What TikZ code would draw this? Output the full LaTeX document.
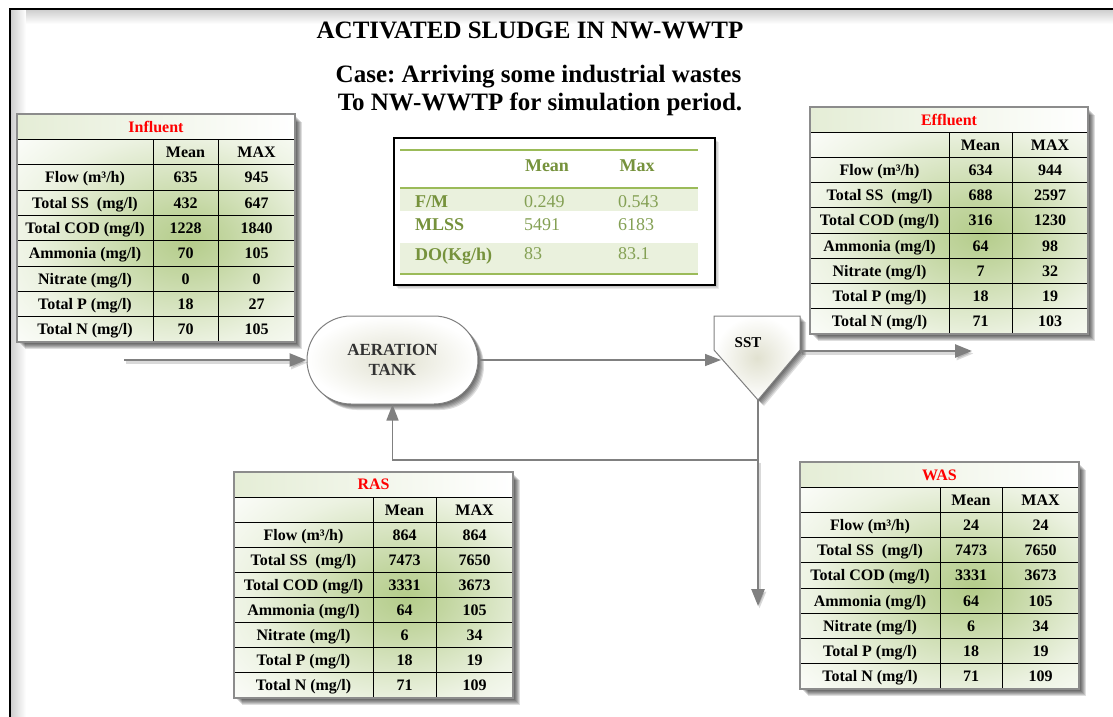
\documentclass[tikz,border=0pt]{standalone}
\usepackage{fontspec}
\setmainfont{Liberation Serif}
\usetikzlibrary{arrows.meta,calc}
\frenchspacing
\definecolor{tgreen}{RGB}{180,204,138}
\definecolor{olivedark}{RGB}{118,146,60}
\definecolor{olivelight}{RGB}{132,160,84}
\definecolor{oliveline}{RGB}{155,187,89}
\definecolor{bandgreen}{RGB}{234,241,221}
\definecolor{linegray}{RGB}{128,128,128}
\definecolor{tankcore}{RGB}{225,225,208}
\definecolor{tanktext}{RGB}{50,50,50}

\pgfdeclareradialshading{tblglow}{\pgfpoint{6bp}{0bp}}{color(0bp)=(tgreen); color(8bp)=(tgreen!80); color(26bp)=(tgreen!25); color(40bp)=(white); color(60bp)=(white)}

\tikzset{
  cell/.style={font=\fontsize{16}{19}\selectfont\bfseries, inner sep=0pt, text height=10.8pt, text depth=0pt},
  tabtitle/.style={cell, text=red},
  flow/.style={draw=linegray, line width=1.5pt, -{Triangle[length=16pt,width=12pt]}},
  bigflow/.style={draw=linegray, line width=2.5pt, -{Triangle[length=17pt,width=13pt]}},
  flowshade/.style={draw=black, opacity=0.15, line width=3pt, transform canvas={shift={(1.5pt,-2.5pt)}}, -{Triangle[length=17pt,width=13pt]}},
  midlabel/.style={font=\fontsize{18}{20}\selectfont\bfseries, text=olivedark, inner sep=0pt, anchor=base west},
  midvalue/.style={font=\fontsize{18}{20}\selectfont, text=olivelight, inner sep=0pt, anchor=base west},
  midhead/.style={font=\fontsize{18}{20}\selectfont\bfseries, text=olivedark, inner sep=0pt, anchor=base},
  headline/.style={font=\fontsize{25}{27}\selectfont\bfseries, inner sep=0pt, align=center},
}

% name, left, top, col1, col2, right, bottom, title, rows
\newcommand{\DataTable}[9]{%
  \pgfmathsetmacro{\tblrh}{(#7-#3)/9}%
  \foreach \k in {1,...,7} \fill[black, opacity=0.13] (#2+\k+1,#3+\k+1) rectangle (#6+\k,#7+\k);
  \fill[white] (#2,#3) rectangle (#6,#7);
  \shade[left color=tgreen!35, right color=white] (#2,#3) rectangle (#6,#3+\tblrh);
  \shade[shading=tblglow] (#2,#3+\tblrh) rectangle (#6,#7);
  \foreach \i in {1,...,8} \draw[black, line width=1pt] (#2,#3+\i*\tblrh) -- (#6,#3+\i*\tblrh);
  \draw[black, line width=1pt] (#4,#3+\tblrh) -- (#4,#7);
  \draw[black, line width=1pt] (#5,#3+\tblrh) -- (#5,#7);
  \draw[black!45, line width=1.5pt] (#2,#3) rectangle (#6,#7);
  \node[tabtitle] (#1-title) at ({(#2+#6)/2},{#3+0.5*\tblrh}) {#8};
  \node[cell] (#1-mean) at ({(#4+#5)/2},{#3+1.5*\tblrh}) {Mean};
  \node[cell] (#1-max) at ({(#5+#6)/2},{#3+1.5*\tblrh}) {MAX};
  \foreach \a/\b/\c [count=\i] in {#9} {
    \node[cell] (#1-\i-1) at ({(#2+#4)/2},{#3+(\i+1.5)*\tblrh}) {\a};
    \node[cell] (#1-\i-2) at ({(#4+#5)/2},{#3+(\i+1.5)*\tblrh}) {\b};
    \node[cell] (#1-\i-3) at ({(#5+#6)/2},{#3+(\i+1.5)*\tblrh}) {\c};
  }%
}

\begin{document}
\begin{tikzpicture}[x=1pt,y=-1pt]
\useasboundingbox (0,0) rectangle (1113,717);
\clip (0,0) rectangle (1113,717);
\fill[white] (0,0) rectangle (1113,717);

% frame with soft inner shadow
\shade[left color=black!20, right color=white] (10,9) rectangle (26,717);
\shade[top color=black!20, bottom color=white] (26,9) rectangle (1113,24);
\draw[black, line width=2.5pt] (10,740) -- (10,9) -- (1140,9);

% titles
\node[headline] (title) at (530,30) {ACTIVATED SLUDGE IN NW-WWTP};
\node[headline] (case1) at (538.5,77) {Case: Arriving some industrial wastes};
\node[headline] (case2) at (540,104) {To NW-WWTP for simulation period.};

% parameters table
\foreach \k in {1,...,4} \fill[black, opacity=0.08] (394+\k,138+\k) rectangle (715+\k,285+\k);
\node[draw=black, line width=1.6pt, fill=white, minimum width=321pt, minimum height=147pt, inner sep=0pt] (params) at (554.5,211.5) {};
\fill[bandgreen] (400,188) rectangle (698,211);
\fill[bandgreen] (400,243) rectangle (698,273);
\draw[oliveline, line width=1.5pt] (400,150) -- (698,150);
\draw[oliveline, line width=1.5pt] (400,188) -- (698,188);
\draw[oliveline, line width=1.5pt] (400,274) -- (698,274);
\node[midhead] (pmean) at (547,171) {Mean};
\node[midhead] (pmax) at (637,171) {Max};
\node[midlabel] (fm) at (415,207) {F/M};
\node[midvalue] (fm1) at (524,207) {0.249};
\node[midvalue] (fm2) at (618,207) {0.543};
\node[midlabel] (mlss) at (415,230) {MLSS};
\node[midvalue] (mlss1) at (524,230) {5491};
\node[midvalue] (mlss2) at (618,230) {6183};
\node[midlabel] (do) at (415,260) {DO(Kg/h)};
\node[midvalue] (do1) at (524,259) {83};
\node[midvalue] (do2) at (618,259) {83.1};

% data tables
\DataTable{inf}{17}{114}{153}{218}{295}{342}{Influent}{%
  {Flow (m³/h)}/635/945, {Total SS\ \ (mg/l)}/432/647, {Total COD (mg/l)}/1228/1840,
  {Ammonia (mg/l)}/70/105, {Nitrate (mg/l)}/0/0, {Total P (mg/l)}/18/27, {Total N (mg/l)}/70/105}
\DataTable{eff}{810}{107}{949}{1012}{1088}{334}{Effluent}{%
  {Flow (m³/h)}/634/944, {Total SS\ \ (mg/l)}/688/2597, {Total COD (mg/l)}/316/1230,
  {Ammonia (mg/l)}/64/98, {Nitrate (mg/l)}/7/32, {Total P (mg/l)}/18/19, {Total N (mg/l)}/71/103}
\DataTable{ras}{234}{472}{373}{436}{513}{698}{RAS}{%
  {Flow (m³/h)}/864/864, {Total SS\ \ (mg/l)}/7473/7650, {Total COD (mg/l)}/3331/3673,
  {Ammonia (mg/l)}/64/105, {Nitrate (mg/l)}/6/34, {Total P (mg/l)}/18/19, {Total N (mg/l)}/71/109}
\DataTable{was}{800}{462}{940}{1002}{1079}{689}{WAS}{%
  {Flow (m³/h)}/24/24, {Total SS\ \ (mg/l)}/7473/7650, {Total COD (mg/l)}/3331/3673,
  {Ammonia (mg/l)}/64/105, {Nitrate (mg/l)}/6/34, {Total P (mg/l)}/18/19, {Total N (mg/l)}/71/109}

% aeration tank
\foreach \k in {1,...,6} \fill[black, opacity=0.13, rounded corners=44pt] (307+\k,316+\k) rectangle (478+\k,404+\k);
\node[draw=linegray, line width=1pt, rounded corners=44pt, minimum width=171pt, minimum height=88pt,
      inner color=tankcore, outer color=white, align=center,
      font=\fontsize{17}{19.5}\selectfont\bfseries, text=tanktext, inner sep=0pt] (tank) at (392.5,360) {AERATION\\TANK};

% secondary settling tank
\foreach \k in {1,...,6} \fill[black, opacity=0.13] (714+\k,316+\k) -- (800+\k,316+\k) -- (800+\k,350+\k) -- (758+\k,400+\k) -- (714+\k,350+\k) -- cycle;
\shade[draw=linegray, line width=1pt, inner color=tankcore, outer color=white] (714,316) -- (800,316) -- (800,350) -- (758,400) -- (714,350) -- cycle;
\node[font=\fontsize{15}{18}\selectfont\bfseries, inner sep=0pt] (sst) at (748,343) {SST};

% connector end points
\coordinate (inflow) at (124,360);
\coordinate (sstin) at (721,360);
\coordinate (sstout) at (800,351);
\coordinate (effout) at (972,351);
\coordinate (sstbot) at (758,400);
\coordinate (split) at (758,460);
\coordinate (wasout) at (758,606);

% connectors
\draw[flowshade] (inflow) -- (tank.west);
\draw[bigflow] (inflow) -- (tank.west);
\draw[flow] (tank.east) -- (sstin);
\draw[flowshade] (sstout) -- (effout);
\draw[bigflow] (sstout) -- (effout);
\draw[flow] (sstbot) -- (split) -| (tank.south);
\draw[flowshade] (split) -- (wasout);
\draw[bigflow] (split) -- (wasout);
\end{tikzpicture}
\end{document}
